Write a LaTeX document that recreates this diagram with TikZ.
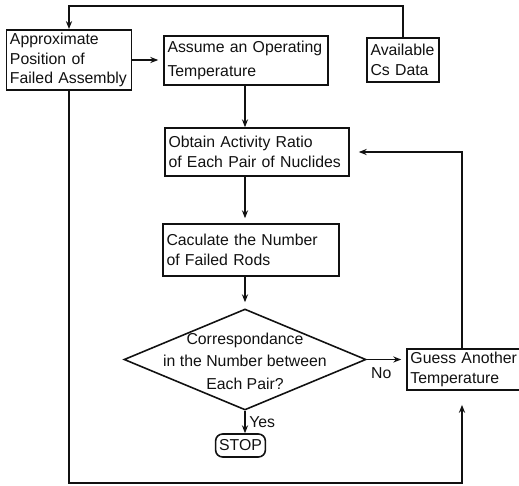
\documentclass[tikz,border=0pt]{standalone}
\usepackage{fontspec}
\setmainfont{Liberation Sans}
\usetikzlibrary{shapes.geometric, arrows.meta, positioning, calc}
\definecolor{InkBlack}{HTML}{111111}
\newcommand{\boxfont}{\fontsize{9}{11}\selectfont\hyphenpenalty=10000}

\begin{document}
\begin{tikzpicture}[
    stepbox/.style={draw=InkBlack, line width=0.9pt, align=left, inner xsep=2pt,
                    inner ysep=2pt, font=\boxfont, text=InkBlack},
    decision/.style={draw=InkBlack, line width=0.9pt, diamond, inner sep=0pt},
    flow/.style={draw=InkBlack, line width=0.9pt, -{Stealth[length=4.5pt,width=3.5pt]}},
    flowlabel/.style={font=\boxfont, text=InkBlack, inner sep=2pt}
]
    \useasboundingbox (0,0) rectangle (10.38,-9.72);

    % Top row
    \node[stepbox, text width=2.36cm, minimum height=1.16cm] (approx) at (1.38,-1.20)
        {Approximate\\Position of\\Failed Assembly};
    \node[stepbox, text width=3.14cm, minimum height=0.98cm] (assume) at (4.92,-1.21)
        {Assume an Operating\\[3pt]Temperature};
    \node[stepbox, text width=1.30cm, minimum height=0.88cm] (avail) at (8.06,-1.20)
        {Available\\Cs Data};

    % Main column
    \node[stepbox, text width=3.54cm, minimum height=0.96cm] (obtain) at (5.14,-3.04)
        {Obtain Activity Ratio\\of Each Pair of Nuclides};
    \node[stepbox, text width=3.38cm, minimum height=1.04cm] (calc) at (5.02,-5.00)
        {Caculate the Number\\of Failed Rods};
    \node[decision, minimum width=4.84cm, minimum height=2.02cm,
          label={[flowlabel, align=center, yshift=-1pt]center:{Correspondance\\[2pt]in the Number between\\[2pt]Each Pair?}}]
          (dia) at (4.90,-7.19) {};
    \node[stepbox, rounded corners=4pt, align=center, minimum width=0.98cm,
          minimum height=0.46cm] (stop) at (4.81,-8.91) {STOP};

    % Side box
    \node[stepbox, text width=2.16cm, minimum height=0.82cm] (guess) at (9.29,-7.39)
        {Guess Another\\Temperature};

    % Loop guides
    \coordinate (rx) at (9.24,0);
    \coordinate (loopbot) at (0,-9.66);

    % Connectors
    \draw[flow] (avail.north) -- ++(0,0.62) -| (approx.north);
    \draw[flow, shorten >=0.1cm] (approx.east) -- (approx.east -| assume.west);
    \draw[flow] (dia.north |- assume.south) -- (dia.north |- obtain.north);
    \draw[flow, shorten >=0.1cm] (dia.north |- obtain.south) -- (dia.north |- calc.north);
    \draw[flow, shorten >=0.12cm] (dia.north |- calc.south) -- (dia.north);
    \draw[flow] (dia.south) -- (dia.south |- stop.north)
        node[midway, right, flowlabel] {Yes};
    \draw[flow, shorten >=0.1cm] (dia.east) -- (dia.east -| guess.west)
        node[pos=0, below right, yshift=-2pt, flowlabel] {No};
    \draw[flow, shorten >=0.18cm] (rx |- guess.north) |- (obtain.east);
    \draw[flow, shorten >=0.28cm] (approx.south) -- (approx.south |- loopbot)
        -| (rx |- guess.south);
\end{tikzpicture}
\end{document}
